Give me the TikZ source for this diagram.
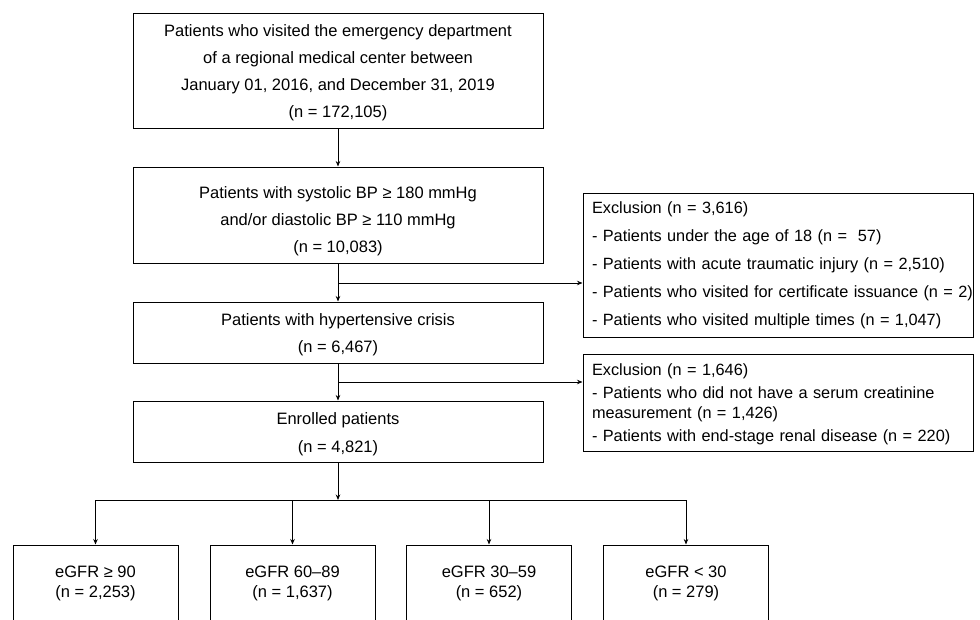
\documentclass[tikz,border=0pt]{standalone}
\usepackage{fontspec}
\setmainfont{Liberation Sans}
\usetikzlibrary{arrows.meta}
\newcommand\tp[1]{\rule{0pt}{#1pt}}
\newcommand\bt{\rule[-5pt]{0pt}{5pt}}
\begin{document}
\begin{tikzpicture}[x=1pt,y=-1pt,
  box/.style={draw, line width=1pt, inner sep=0pt, align=center,
    font=\fontsize{16.5}{27}\selectfont, minimum width=410pt},
  exbox/.style={draw, line width=1pt, inner xsep=9pt, inner ysep=0pt,
    align=left, text width=372pt, font=\fontsize{16.3}{28}\selectfont},
  gbox/.style={draw, line width=1pt, inner sep=0pt, align=center,
    font=\fontsize{16.5}{20}\selectfont, minimum width=165pt, minimum height=76pt},
  arr/.style={-{Stealth[length=5.5pt,width=4.5pt]}, line width=0.9pt},
  ln/.style={line width=0.9pt, line cap=rect}]
\useasboundingbox (0,0) rectangle (980,619);
\clip (0,0) rectangle (980,619);

\node[box, minimum height=115pt] (b1) at (338,70.5)
  {\tp{17}Patients who visited the emergency department\\of a regional medical center between\\January 01, 2016, and December 31, 2019\\(n = 172,105)\bt};
\node[box, minimum height=96pt] (b2) at (338,215)
  {\tp{25}Patients with systolic BP ≥ 180 mmHg\\and/or diastolic BP ≥ 110 mmHg\\(n = 10,083)\bt};
\node[box, minimum height=61pt] (b3) at (338,332.5)
  {\tp{18}Patients with hypertensive crisis\\(n = 6,467)\bt};
\node[box, minimum height=61pt, font=\fontsize{16.5}{28}\selectfont] (b4) at (338,431.5)
  {\tp{19}Enrolled patients\\(n = 4,821)\bt};

\node[exbox, minimum height=144pt] (ex1) at (778,265)
  {\mbox{Exclusion (n = 3,616)}\\
   \mbox{- Patients under the age of 18 (n =~ 57)}\\
   \mbox{- Patients with acute traumatic injury (n = 2,510)}\\
   \mbox{- Patients who visited for certificate issuance (n = 2)}\\
   \mbox{- Patients who visited multiple times (n = 1,047)}};
\node[exbox, minimum height=97pt, font=\fontsize{16.3}{20.5}\selectfont] (ex2) at (778,402.5)
  {\tp{17}Exclusion (n = 1,646)\\[2.5pt]
   \mbox{- Patients who did not have a serum creatinine}\\
   \mbox{measurement (n = 1,426)}\\[2.5pt]
   \mbox{- Patients with end-stage renal disease (n = 220)}\bt};

\node[gbox] (e1) at (95.5,583) {eGFR ≥ 90\\(n = 2,253)};
\node[gbox] (e2) at (292.5,583) {eGFR 60–89\\(n = 1,637)};
\node[gbox] (e3) at (489,583) {eGFR 30–59\\(n = 652)};
\node[gbox] (e4) at (686,583) {eGFR < 30\\(n = 279)};

\coordinate (j1) at (338,283);
\coordinate (j2) at (338,382);
\coordinate (j3) at (338,500);

\draw[arr] (b1.south) -- (b2.north);
\draw[arr] (b2.south) -- (b3.north);
\draw[arr] (j1) -- (j1 -| ex1.west);
\draw[arr] (b3.south) -- (b4.north);
\draw[arr] (j2) -- (j2 -| ex2.west);
\draw[arr] (b4.south) -- (j3);
\draw[ln] (j3 -| e1.north) -- (j3 -| e4.north);
\foreach \e in {e1,e2,e3,e4}
  \draw[arr] (j3 -| \e.north) -- (\e.north);
\end{tikzpicture}
\end{document}
